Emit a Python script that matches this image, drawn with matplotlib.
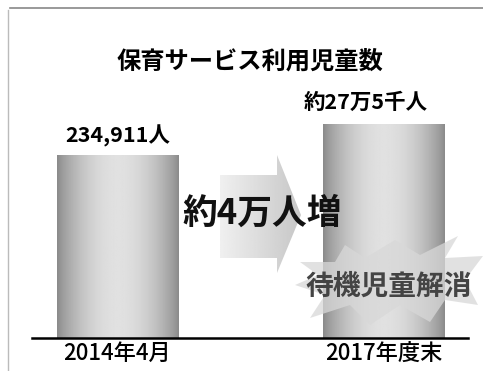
import numpy as np
import matplotlib.pyplot as plt
from matplotlib.patches import Polygon
from matplotlib.lines import Line2D

plt.rcParams['font.family'] = ['Noto Sans CJK JP', 'DejaVu Sans']

# data
categories = ['2014年4月', '2017年度末']
values = [234911, 275000]
value_labels = ['234,911人', '約27万5千人']
title = '保育サービス利用児童数'
increase_label = '約4万人増'
goal_label = '待機児童解消'

W, H = 483, 371
fig = plt.figure(figsize=(W / 100, H / 100), dpi=100)

# bar axes: baseline at y=338px, 183px per 234,911
ax = fig.add_axes([32 / W, 33 / H, 436 / W, 318 / H])
x = np.arange(len(categories))
bars = ax.bar(x, values, width=0.455, color='none', edgecolor='none', zorder=2)

# cylinder-like shading on each bar
t = np.linspace(0, 1, 200)
shade = 0.54 + 0.34 * np.sin(np.pi * t) ** 0.8
for b in bars:
    x0, w, h = b.get_x(), b.get_width(), b.get_height()
    im = ax.imshow(shade[None, :], cmap='gray', vmin=0, vmax=1,
                   extent=[x0, x0 + w, 0, h], aspect='auto', zorder=2)
    im.set_clip_path(b)

ax.set_xlim(-0.3214, 1.3177)
ax.set_ylim(0, values[0] * 318 / 183)
for s in ['top', 'left', 'right']:
    ax.spines[s].set_visible(False)
ax.spines['bottom'].set_linewidth(1.8)
ax.set_yticks([])
ax.set_xticks(x, categories, fontsize=16, fontweight='medium')
ax.tick_params(axis='x', length=0, pad=3)
ax.patch.set_alpha(0)

offsets = [(0, 6), (-13, 8)]
for xi, v, lab, off in zip(x, values, value_labels, offsets):
    ax.annotate(lab, (xi, v), xytext=off, textcoords='offset points',
                ha='center', va='bottom', fontsize=15.5, fontweight='bold')

# overlay in image pixels for the decorations
ov = fig.add_axes([0, 0, 1, 1])
ov.set_xlim(0, W)
ov.set_ylim(H, 0)
ov.axis('off')
ov.patch.set_alpha(0)

# title
ov.text(250, 62, title, ha='center', va='center', fontsize=17.5, fontweight='bold')

# block arrow with gradient
arrow = Polygon([(220, 175), (277, 175), (277, 155), (301, 215),
                 (277, 273), (277, 258), (220, 258)],
                closed=True, facecolor='none', edgecolor='none')
ov.add_patch(arrow)
g = np.linspace(0.94, 0.78, 100)
im = ov.imshow(g[None, :], cmap='gray', vmin=0, vmax=1,
               extent=[220, 301, 273, 155], aspect='auto')
im.set_clip_path(arrow)

ov.text(262, 213, increase_label, ha='center', va='center',
        fontsize=25, fontweight='bold', color='#111111')

# burst behind goal label
burst = Polygon([(300, 262), (335, 262), (345, 245), (365, 258), (395, 240),
                 (420, 255), (458, 236), (445, 258), (483, 256), (465, 280),
                 (478, 305), (445, 300), (430, 322), (400, 305), (370, 325),
                 (350, 305), (310, 318), (325, 295), (295, 285), (318, 275)],
                closed=True, facecolor='#d8d8d8', edgecolor='none', alpha=0.75)
ov.add_patch(burst)
ov.text(389, 287, goal_label, ha='center', va='center',
        fontsize=20, fontweight='bold', color='#444444')

# scanned frame
fig.add_artist(Line2D([10 / W, 1], [1 - 8 / H, 1 - 8 / H], color='#888888', lw=1.2))
fig.add_artist(Line2D([8 / W, 8 / W], [0, 1 - 10 / H], color='#bbbbbb', lw=1))

fig.savefig('out.png', dpi=100)
